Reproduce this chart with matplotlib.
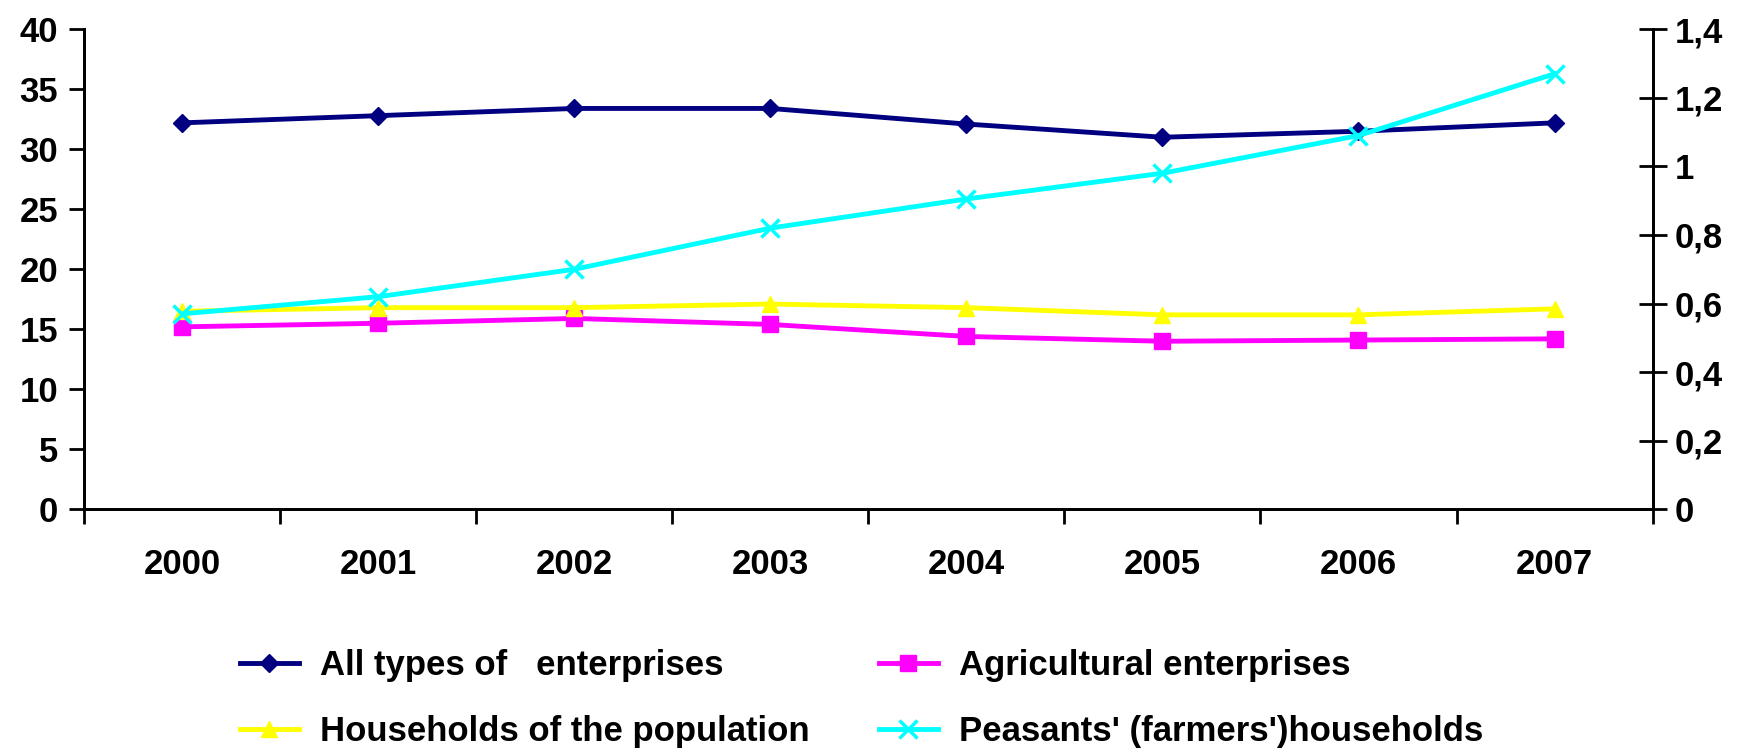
import numpy as np
import matplotlib
matplotlib.use('Agg')
from matplotlib import pyplot as plt

years = ['2000', '2001', '2002', '2003', '2004', '2005', '2006', '2007']
all_types = [32.2, 32.8, 33.4, 33.4, 32.1, 31.0, 31.5, 32.2]
agricultural = [15.2, 15.5, 15.9, 15.4, 14.4, 14.0, 14.1, 14.2]
households = [16.5, 16.8, 16.8, 17.1, 16.8, 16.2, 16.2, 16.7]
peasants = [0.57, 0.62, 0.70, 0.82, 0.905, 0.98, 1.09, 1.27]  # right axis

labels = ['All types of   enterprises', 'Agricultural enterprises',
          'Households of the population', "Peasants' (farmers')households"]

plt.rcParams['font.family'] = ['Liberation Sans', 'DejaVu Sans']
plt.rcParams['font.weight'] = 'bold'

fig = plt.figure(figsize=(17.58, 7.5), dpi=100)
ax = fig.add_axes([0.048, 0.321, 0.892, 0.640])
ax2 = ax.twinx()

x = np.arange(len(years))
l1, = ax.plot(x, all_types, color='#000080', marker='D', markersize=9, lw=3.5)
l2, = ax.plot(x, agricultural, color='#FF00FF', marker='s', markersize=11, lw=3.5)
l3, = ax.plot(x, households, color='#FFFF00', marker='^', markersize=11, lw=3.5)
l4, = ax2.plot(x, peasants, color='#00FFFF', marker='x', markersize=13, mew=2.5, lw=3.5)

ax.set_xlim(-0.5, 7.5)
ax.set_ylim(0, 40)
ax2.set_ylim(0, 1.4)
ax.set_yticks(np.arange(0, 41, 5))
ax2.set_yticks(np.arange(0, 1.41, 0.2))
ax2.set_yticklabels(['0', '0,2', '0,4', '0,6', '0,8', '1', '1,2', '1,4'])

ax.set_xticks(x)
ax.set_xticklabels(years)
ax.set_xticks(np.arange(-0.5, 8, 1), minor=True)
ax.tick_params(axis='x', which='major', length=0, pad=28, labelsize=25)
ax.tick_params(axis='x', which='minor', length=11, width=2, direction='out')
ax.tick_params(axis='y', length=11, width=2, direction='out', labelsize=25, pad=8)
ax2.tick_params(axis='y', length=20, width=2, direction='inout', labelsize=25, pad=6)

for a in (ax, ax2):
    a.spines['top'].set_visible(False)
    for s in ('left', 'right', 'bottom'):
        a.spines[s].set_linewidth(2)

# legend fills by column, so order handles to read row by row
fig.legend([l1, l3, l2, l4], [labels[0], labels[2], labels[1], labels[3]],
           ncol=2, loc='center', bbox_to_anchor=(0.49, 0.069), frameon=False,
           fontsize=25, handlelength=1.7, columnspacing=2.0, labelspacing=0.95,
           handletextpad=0.6)

fig.savefig('out.png', dpi=100)
